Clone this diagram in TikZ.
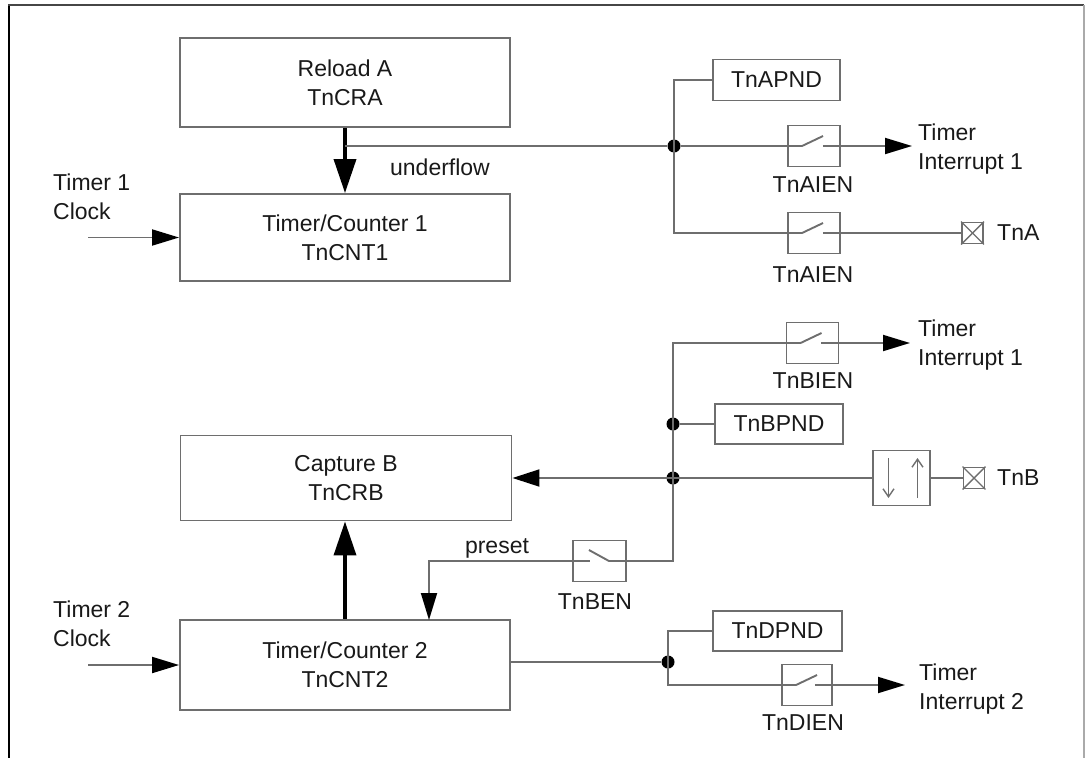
\documentclass[tikz,border=0pt]{standalone}
\usepackage{fontspec}
\setmainfont{Liberation Sans}
\usetikzlibrary{arrows.meta,calc}
\definecolor{ln}{RGB}{110,110,110}
\definecolor{txt}{RGB}{25,25,25}
\tikzset{
  ln/.style={draw=ln, line width=1.9pt},
  blk/.style={ln, rectangle, inner sep=0pt, align=center, text=txt},
  swbox/.style={ln, rectangle, minimum width=52pt, minimum height=41pt, inner sep=0pt},
  pinbox/.style={ln, rectangle, minimum width=21pt, minimum height=21pt, inner sep=0pt},
  lbl/.style={inner sep=0pt, align=center, text=txt},
  lbll/.style={inner sep=0pt, align=left, text=txt, anchor=west},
  sig/.style={ln, -{Triangle[length=27pt,width=16pt,color=black]}},
  thk/.style={draw=black, line width=3.6pt, -{Triangle[length=34pt,width=22pt]}},
  jdot/.style={circle, fill=black, inner sep=0pt, minimum size=13pt},
  edgearr/.style={draw=ln, line width=1.4pt, -{Straight Barb[length=8pt,width=11pt]}}
}
\newcommand\swfwd[1]{%
  \draw[ln] (#1.west) -- ++(15,0) -- ++(21,-10);
  \draw[ln] ($(#1.east)+(-18,0)$) -- (#1.east);}
\newcommand\swrev[1]{%
  \draw[ln] (#1.east) -- ++(-18,0) -- ++(-20,-11);
  \draw[ln] (#1.west) -- ++(18,0);}
\newcommand\pinx[1]{%
  \draw[ln, line width=1.4pt] (#1.north west) -- (#1.south east);
  \draw[ln, line width=1.4pt] (#1.north east) -- (#1.south west);}
\begin{document}
\begin{tikzpicture}[x=1pt, y=-1pt, font=\fontsize{23}{29}\selectfont]
\useasboundingbox (0,0) rectangle (1085,758);
% frame
\draw[black, line width=2pt] (9,758) -- (9,5);
\draw[draw={rgb,255:red,70;green,70;blue,70}, line width=2.6pt] (8,5) -- (1084,5);
\draw[draw={rgb,255:red,170;green,170;blue,170}, line width=1.6pt] (1084,5) -- (1084,758);

% main blocks
\node[blk, minimum width=330pt, minimum height=89pt] (rla) at (345,82.5) {Reload A\\TnCRA};
\node[blk, minimum width=330pt, minimum height=87pt] (tc1) at (345,237.5) {Timer/Counter 1\\TnCNT1};
\node[blk, minimum width=331pt, minimum height=85pt] (crb) at (346,478) {Capture B\\TnCRB};
\node[blk, minimum width=330pt, minimum height=90pt] (tc2) at (345,665) {Timer/Counter 2\\TnCNT2};

% clocks
\node[lbll] (clk1) at (53,197) {Timer 1\\Clock};
\node[lbll] (clk2) at (53,624) {Timer 2\\Clock};
\coordinate (c1s) at (88,237.5);
\coordinate (c2s) at (88,665);
\draw[sig] (c1s) -- (tc1.west);
\draw[sig] (c2s) -- (tc2.west);

% Reload -> Timer/Counter 1
\draw[thk] (rla.south) -- (tc1.north);
\coordinate (ua) at (345,146);
\node[jdot] (ja) at (674,146) {};
\coordinate (jab) at (674,233);
\draw[ln] (ua) -- (ja);
\node[lbl] (uf) at (440,167) {underflow};

% A outputs
\node[blk, minimum width=127pt, minimum height=41pt] (apnd) at (776.5,80) {TnAPND};
\node[swbox] (swa1) at (814,146) {};
\node[swbox] (swa2) at (814,233) {};
\swfwd{swa1}
\swfwd{swa2}
\node[lbl] (la1) at (813,185) {TnAIEN};
\node[lbl] (la2) at (813,275) {TnAIEN};
\draw[ln] (apnd.west) -| (jab) -- (swa2.west);
\draw[ln] (ja) -- (swa1.west);
\coordinate (ia1) at (912,146);
\draw[sig] (swa1.east) -- (ia1);
\node[lbll] (tia1) at (918,149) {Timer\\Interrupt 1};
\node[pinbox] (pina) at (972.5,233) {};
\pinx{pina}
\draw[ln] (swa2.east) -- (pina.west);
\node[lbll] (tna) at (997,233) {TnA};

% B section
\node[swbox] (swb1) at (812.5,343) {};
\swfwd{swb1}
\node[lbl] (lb1) at (813,381) {TnBIEN};
\coordinate (ib1) at (910,343);
\draw[sig] (swb1.east) -- (ib1);
\node[lbll] (tib1) at (918,345) {Timer\\Interrupt 1};
\node[jdot] (jb1) at (673,424) {};
\node[jdot] (jb2) at (673,478) {};
\coordinate (bv) at (673,561);
\node[blk, minimum width=128pt, minimum height=40pt] (bpnd) at (779,424) {TnBPND};
\draw[ln] (jb1) -- (bpnd.west);
\node[swbox, minimum width=53pt] (swb2) at (599.5,561) {};
\swrev{swb2}
\node[lbl] (lb2) at (595,602) {TnBEN};
\draw[ln] (swb1.west) -| (bv) -- (swb2.east);
\coordinate (pt) at (429,620);
\draw[sig] (swb2.west) -| (pt);
\node[lbl] (pre) at (497,548) {preset};

\node[ln, rectangle, minimum width=57pt, minimum height=55pt, inner sep=0pt] (edg) at (901.5,478) {};
\draw[edgearr] ($(edg.center)+(-13,-20)$) -- ($(edg.center)+(-13,20)$);
\draw[edgearr] ($(edg.center)+(16,20)$) -- ($(edg.center)+(16,-20)$);
\node[pinbox] (pinb) at (974,478) {};
\pinx{pinb}
\draw[ln] (edg.east) -- (pinb.west);
\node[lbll] (tnb) at (997,478) {TnB};
\draw[ln, -{Triangle[length=27pt,width=17pt,color=black]}] (edg.west) -- (crb.east);

% Timer/Counter 2 -> Capture B
\draw[thk] (tc2.north) -- (tc2.north |- crb.south);

% D outputs
\node[jdot] (jd) at (668,662) {};
\coordinate (jdb) at (668,685);
\draw[ln] (tc2.east |- jd) -- (jd);
\node[blk, minimum width=129pt, minimum height=40pt] (dpnd) at (777.5,631) {TnDPND};
\node[swbox, minimum width=50pt] (swd) at (807,685) {};
\swfwd{swd}
\node[lbl] (ld) at (803,723) {TnDIEN};
\draw[ln] (dpnd.west) -| (jdb) -- (swd.west);
\coordinate (id) at (905,685);
\draw[sig] (swd.east) -- (id);
\node[lbll] (tid) at (919,689) {Timer\\Interrupt 2};
\end{tikzpicture}
\end{document}
